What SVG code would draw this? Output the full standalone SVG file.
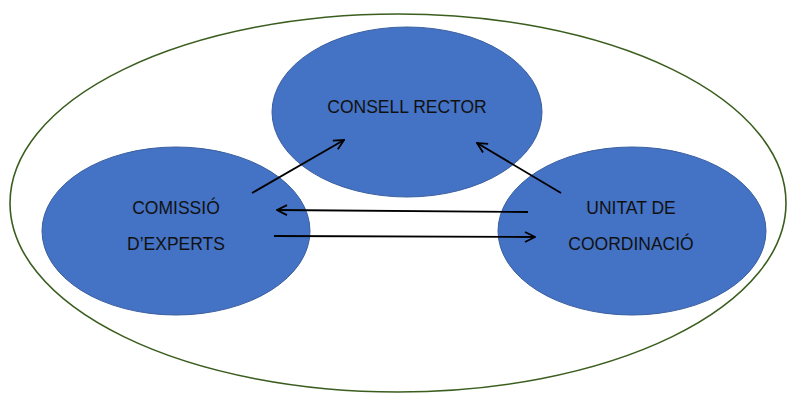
<svg xmlns="http://www.w3.org/2000/svg" width="788" height="393" viewBox="0 0 788 393">
<style>
.node{fill:#4472C4;stroke:#3A5F9F;stroke-width:1}
.lbl{font-family:"Liberation Sans",Arial,sans-serif;font-size:17.5px;fill:#111;text-anchor:middle}
.conn{stroke:#000;stroke-width:1.8;fill:none;marker-end:url(#ah)}
</style>
<defs>
<marker id="ah" viewBox="0 0 12 12" refX="11" refY="6" markerWidth="12" markerHeight="12" markerUnits="userSpaceOnUse" orient="auto">
<path d="M1,1 L11,6 L1,11" fill="none" stroke="#000" stroke-width="1.8"/>
</marker>
</defs>
<rect width="788" height="393" fill="#fff"/>
<ellipse id="outer" cx="398" cy="203" rx="388" ry="189" fill="none" stroke="#3B5E1F" stroke-width="1.6"/>
<g id="consell-rector">
<ellipse class="node" cx="407" cy="112" rx="135" ry="85"/>
<text class="lbl" x="407" y="113">CONSELL RECTOR</text>
</g>
<g id="comissio-experts">
<ellipse class="node" cx="176" cy="231" rx="134" ry="84"/>
<text class="lbl" x="176" y="214">COMISSIÓ</text>
<text class="lbl" x="176" y="250">D’EXPERTS</text>
</g>
<g id="unitat-coordinacio">
<ellipse class="node" cx="632" cy="231" rx="134" ry="84"/>
<text class="lbl" x="631" y="214">UNITAT DE</text>
<text class="lbl" x="631" y="250">COORDINACIÓ</text>
</g>
<g id="connectors">
<line class="conn" x1="252" y1="193" x2="344" y2="140"/>
<line class="conn" x1="561" y1="193" x2="477" y2="143"/>
<line class="conn" x1="528" y1="212" x2="277" y2="210"/>
<line class="conn" x1="274" y1="236" x2="535" y2="237"/>
</g>
</svg>
